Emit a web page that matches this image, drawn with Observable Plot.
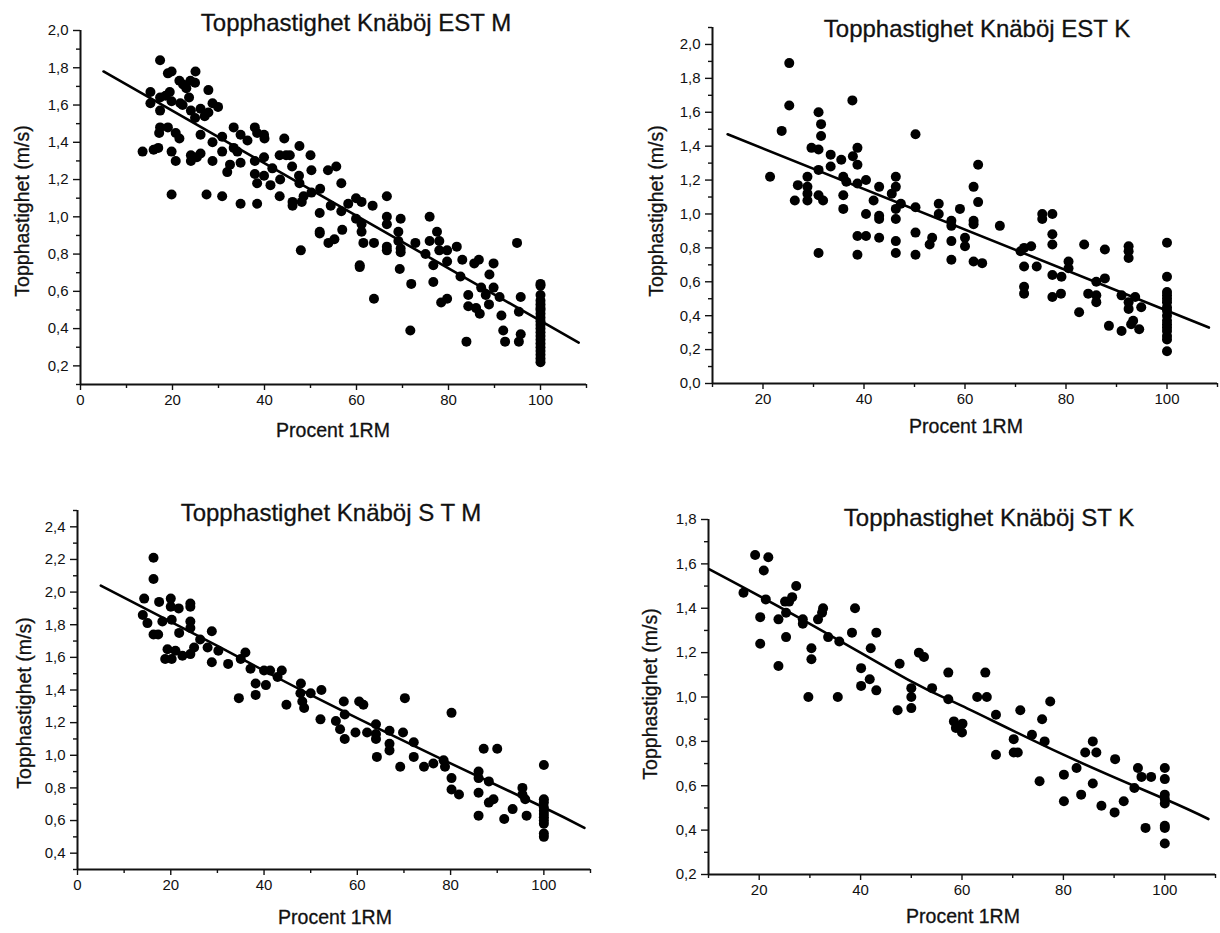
<!DOCTYPE html>
<html><head><meta charset="utf-8">
<script src="https://cdn.jsdelivr.net/npm/d3@7"></script>
<script src="https://cdn.jsdelivr.net/npm/@observablehq/plot@0.6"></script>
<style>
body{margin:0;background:#fff;}
#root{position:relative;width:1220px;height:933px;font-family:"Liberation Sans",Arial,sans-serif;color:#111;overflow:hidden;}
.panel{position:absolute;}
.title{position:absolute;font-size:24px;line-height:1;white-space:nowrap;transform:translateX(-50%);-webkit-text-stroke:0.3px #111;}
.xlab{position:absolute;font-size:19.5px;line-height:1;white-space:nowrap;transform:translateX(-50%);-webkit-text-stroke:0.3px #111;}
.ylab{position:absolute;font-size:19.5px;line-height:1;white-space:nowrap;transform:translate(-50%,-50%) rotate(-90deg);-webkit-text-stroke:0.3px #111;}
</style></head><body><div id="root"></div>
<script>
// ---------- DATA ----------
const titles = ["Topphastighet Knäböj EST M", "Topphastighet Knäböj EST K", "Topphastighet Knäböj S T M", "Topphastighet Knäböj ST K"];
const xLabel = "Procent 1RM";
const yLabel = "Topphastighet (m/s)";

// [Procent 1RM, Topphastighet m/s]
const estM = [[17.3,1.84],[19,1.77],[19.8,1.78],[15.2,1.67],[15.2,1.61],[17.3,1.64],[18.5,1.65],[19.4,1.67],[19.8,1.62],[21.5,1.73],[22.3,1.71],[23,1.69],[23.9,1.73],[25,1.78],[24.9,1.72],[21.7,1.61],[22.2,1.60],[23.6,1.64],[27.8,1.68],[24,1.57],[24.9,1.53],[26.1,1.58],[27,1.54],[27.8,1.56],[28.7,1.61],[29.9,1.59],[17.3,1.57],[17.3,1.48],[19,1.48],[17.1,1.45],[20.7,1.45],[21.5,1.42],[13.5,1.35],[15.9,1.36],[16.9,1.37],[19.8,1.35],[20.7,1.30],[24,1.33],[24,1.30],[25.3,1.32],[26.1,1.34],[26.1,1.44],[28.7,1.30],[28.7,1.40],[30.8,1.43],[30.8,1.35],[19.8,1.12],[27.4,1.12],[30.8,1.11],
[33.3,1.48],[31.9,1.24],[32.5,1.28],[33.3,1.37],[34.1,1.35],[34.8,1.44],[36.3,1.41],[34.8,1.29],[34.8,1.07],[37.9,1.48],[38.4,1.45],[39.9,1.44],[40,1.42],[39.9,1.32],[37.9,1.30],[37.9,1.23],[38.4,1.18],[39.9,1.22],[41.3,1.17],[41.7,1.26],[38.4,1.07],[43.3,1.11],[43.3,1.33],[43.4,1.20],[44.3,1.42],[44.7,1.33],[45.5,1.33],[46,1.27],[46.1,1.08],[46.1,1.06],[47.6,1.38],[47.5,1.22],[47.6,1.18],[48.1,1.08],[48.5,1.11],[47.9,0.82],
[50,1.33],[50.2,1.25],[50.2,1.13],[52.1,1.15],[52,1.02],[52,0.92],[52,0.91],[53.8,1.25],[55.6,1.27],[54.4,1.06],[53.9,0.86],[55.2,0.88],[56.7,1.18],[56.7,1.03],[56.9,0.93],[58.2,1.07],[59.9,1.10],[61.1,1.08],[59.9,0.99],[61.1,0.96],[61.1,0.92],[61.5,0.86],[60.7,0.74],[60.7,0.73],[63.5,1.06],[63.8,0.86],[63.8,0.56],
[66.6,1.11],[66.6,1.00],[66.6,0.96],[66.6,0.84],[66.6,0.82],[69.1,0.92],[69.6,0.99],[69.1,0.87],[69.6,0.83],[69.6,0.81],[69.4,0.72],[71.9,0.64],[71.7,0.39],[72.8,0.86],[75.9,1.00],[75.9,0.87],[75,0.80],[76.7,0.74],[76.7,0.65],[77.5,0.92],[78,0.87],[78,0.82],[79.7,0.82],[79.7,0.76],[78.4,0.54],[79.7,0.56],
[81.8,0.84],[83,0.77],[82.6,0.68],[84.3,0.58],[84.3,0.52],[83.9,0.33],[85.6,0.75],[86.6,0.77],[86,0.51],[86.8,0.48],[87.1,0.62],[88.1,0.58],[88.9,0.69],[88.8,0.53],[89.8,0.75],[89.8,0.62],[91.1,0.57],[91.5,0.47],[91.9,0.39],[92.3,0.33],[94.9,0.86],[95.7,0.57],[95.3,0.49],[95.3,0.33],[95.7,0.37],
[100,0.64],[100,0.63],[100,0.58],[100,0.55],[100,0.53],[100,0.51],[100,0.50],[100,0.48],[100,0.46],[100,0.44],[100,0.42],[100,0.40],[100,0.38],[100,0.36],[100,0.34],[100,0.32],[100,0.30],[100,0.28],[100,0.26],[100,0.24],[100,0.22]];
const estMFit = [[5,1.78],[108.3,0.325]];

const estK = [[21.4,1.22],[23.7,1.49],[25.2,1.89],[25.2,1.64],[26.9,1.17],[26.3,1.08],[28.8,1.22],[28.8,1.16],[28.8,1.12],[28.8,1.08],[29.6,1.39],[31,1.60],[31,1.38],[31,1.26],[31,1.11],[31,0.77],[31.5,1.53],[31.5,1.46],[31.9,1.08],[33.4,1.35],[33.4,1.28],[35.5,1.32],[35.9,1.22],[35.9,1.11],[35.9,1.03],[36.5,1.19],[37.7,1.67],[37.8,1.34],[38.7,1.39],[38.7,1.29],[38.7,1.18],[38.7,0.87],[38.7,0.76],[40.4,1.20],[40.4,1.00],[40.4,0.87],[41.9,1.08],[43,1.16],[43,0.99],[43,0.97],[43,0.86],[45.5,1.12],[46.3,1.22],[46.3,1.16],[46.3,1.03],[46.3,0.97],[46.3,0.84],[46.3,0.77],[47.3,1.06],
[50.2,1.47],[50.2,1.04],[50.2,0.89],[50.2,0.76],[53,0.82],[53.5,0.86],[54.8,1.06],[54.8,1.00],[57.3,0.96],[57.3,0.93],[57.3,0.84],[57.3,0.73],[59,1.03],[60,0.86],[60,0.81],[61.7,1.16],[61.7,0.96],[61.7,0.94],[61.7,0.72],[62.6,1.29],[62.6,1.07],[63.4,0.71],[66.9,0.93],
[71,0.78],[71.7,0.80],[71.7,0.69],[71.7,0.57],[71.7,0.53],[73.1,0.81],[74.2,0.69],[75.3,1.00],[75.3,0.97],[77.3,1.00],[77.3,0.88],[77.3,0.82],[77.3,0.64],[77.3,0.51],[79.1,0.63],[79,0.53],[80.5,0.72],[80.5,0.68],[82.6,0.42],[83.6,0.82],[84.4,0.53],[86,0.60],[86,0.52],[86,0.48],[87.7,0.79],[87.7,0.62],[88.5,0.34],[91,0.52],[91,0.31],[92.4,0.81],[92.4,0.78],[92.4,0.74],[92.4,0.48],[92.4,0.44],[92.9,0.35],[93.7,0.51],[93.3,0.37],[94.5,0.32],[94.9,0.45],
[100,0.83],[100,0.63],[100,0.54],[100,0.52],[100,0.50],[100,0.48],[100,0.45],[100,0.43],[100,0.40],[100,0.37],[100,0.35],[100,0.33],[100,0.31],[100,0.28],[100,0.26],[100,0.19]];
const estKFit = [[13,1.47],[108.3,0.33]];

const stM = [[16.3,2.21],[16.3,2.08],[14.3,1.96],[14,1.86],[15,1.81],[16.3,1.74],[17.3,1.74],[17.5,1.94],[18.2,1.82],[18.8,1.59],[19.3,1.65],[20,1.96],[20,1.91],[20.2,1.83],[20.2,1.59],[21,1.64],[21.7,1.90],[21.8,1.75],[22.5,1.61],[24.2,1.62],[24.2,1.93],[24.2,1.91],[24.2,1.82],[24.2,1.78],[25,1.66],[26.3,1.71],[27.9,1.66],[28.8,1.76],[28.8,1.57],[30.2,1.64],[32.3,1.56],[34.6,1.35],[35,1.59],[36,1.63],[37.1,1.53],[38.2,1.44],[38.2,1.37],[40,1.52],[40.4,1.43],[41.3,1.52],[42.9,1.48],[43.8,1.52],[44.8,1.31],[47.9,1.44],[47.8,1.38],[48.2,1.33],[48.6,1.29],
[50,1.38],[52.3,1.40],[52.1,1.22],[55.4,1.21],[56.3,1.16],[57.1,1.33],[57.3,1.25],[57.3,1.10],[59.6,1.14],[60.4,1.33],[61.3,1.31],[62.1,1.14],[64,1.19],[64,1.13],[64,1.10],[64.2,0.99],[66.9,1.15],[66.9,1.07],[66.9,1.03],[69.2,0.93],[69.8,1.14],[70.2,1.35],[72.1,1.08],[72.1,0.99],[74.3,0.93],[76.3,0.95],[78.5,0.97],[78.8,0.93],
[80.2,1.26],[80.2,0.86],[80.2,0.79],[81.8,0.76],[86,0.90],[86,0.86],[86,0.77],[86,0.63],[87.1,1.04],[88.2,0.84],[88.2,0.71],[89.2,0.73],[90,1.04],[91.5,0.61],[93.3,0.67],[95.4,0.80],[95.4,0.76],[96,0.73],[96.3,0.63],
[100,0.94],[100,0.73],[100,0.71],[100,0.68],[100,0.66],[100,0.64],[100,0.62],[100,0.60],[100,0.58],[100,0.52],[100,0.50]];
const stMFit = [[5,2.04],[30,1.67],[50,1.37],[80,0.95],[100,0.68],[108.7,0.555]];

const stK = [[16.9,1.47],[19.2,1.64],[20.2,1.36],[20.2,1.24],[20.9,1.57],[21.3,1.44],[21.8,1.63],[23.8,1.14],[23.8,1.35],[25.1,1.43],[25.3,1.38],[25.3,1.27],[25.9,1.43],[26.5,1.45],[27.3,1.50],[28.6,1.35],[28.6,1.33],[29.7,1.00],[30.3,1.22],[30.3,1.17],[31.6,1.35],[32.4,1.38],[32.6,1.40],[33.6,1.27],[35.5,1.00],[35.8,1.25],[38.3,1.29],[38.9,1.40],[40.1,1.13],[40.1,1.05],[42,1.22],[41.8,1.08],[43.1,1.29],[43.1,1.03],[47.3,0.94],[47.7,1.15],
[50,1.04],[50,1.00],[50,0.95],[51.5,1.20],[52.5,1.18],[54.1,1.04],[57.3,1.11],[57.3,0.99],[58.4,0.89],[58.8,0.86],[60.1,0.88],[60,0.84],[63,1.00],[64.6,1.11],[64.9,1.00],[66.7,0.92],[66.7,0.74],[70.2,0.81],[70.2,0.75],[71,0.75],[71.5,0.94],[73.8,0.83],[75.3,0.62],[75.8,0.90],[76.3,0.80],[77.4,0.98],
[80.1,0.65],[80.1,0.53],[82.6,0.68],[83.5,0.56],[84.3,0.75],[85.8,0.80],[85.8,0.61],[86.5,0.75],[87.5,0.51],[90.2,0.72],[90.1,0.48],[91.9,0.53],[94,0.59],[94.7,0.68],[95.4,0.64],[96.2,0.41],[97.3,0.64],
[100,0.68],[100,0.63],[100,0.56],[100,0.54],[100,0.52],[100,0.42],[100,0.41],[100,0.34]];
const stKFit = [[10.2,1.575],[30,1.33],[50,1.07],[60,0.96],[80,0.74],[100,0.54],[108.6,0.45]];

// tick values
const xMajor0 = [0,20,40,60,80,100];
const xMinor0 = [10,30,50,70,90,110];
const xMajor20 = [20,40,60,80,100];
const xMinor20 = [10,30,50,70,90,110];
const yMajorEstM = [0.2,0.4,0.6,0.8,1.0,1.2,1.4,1.6,1.8,2.0];
const yMinorEstM = [0.1,0.3,0.5,0.7,0.9,1.1,1.3,1.5,1.7,1.9];
const yMajorEstK = [0.0,0.2,0.4,0.6,0.8,1.0,1.2,1.4,1.6,1.8,2.0];
const yMinorEstK = [0.1,0.3,0.5,0.7,0.9,1.1,1.3,1.5,1.7,1.9,2.1];
const yMajorStM = [0.4,0.6,0.8,1.0,1.2,1.4,1.6,1.8,2.0,2.2,2.4];
const yMinorStM = [0.3,0.5,0.7,0.9,1.1,1.3,1.5,1.7,1.9,2.1,2.3,2.5];
const yMajorStK = [0.2,0.4,0.6,0.8,1.0,1.2,1.4,1.6,1.8];
const yMinorStK = [0.3,0.5,0.7,0.9,1.1,1.3,1.5,1.7];

// ---------- DRAWING ----------
const FONT = '"Liberation Sans", Arial, sans-serif';
const comma = v => d3.format(".1f")(v).replace(".", ",");
const root = document.getElementById("root");

function panel(cfg) {
  const rows = cfg.data.map(([p, v]) => ({p, v}));
  const fitRows = cfg.fit.map(([p, v]) => ({p, v}));
  const svg = Plot.plot({
    width: 610, height: cfg.h,
    marginLeft: cfg.m[0], marginRight: cfg.m[1], marginTop: cfg.m[2], marginBottom: cfg.m[3],
    style: {fontFamily: FONT, fontSize: "15px", color: "#111", background: "none", overflow: "visible"},
    x: {domain: cfg.xd, axis: null, label: null},
    y: {domain: cfg.yd, axis: null, label: null},
    marks: [
      Plot.axisY(cfg.yMinor, {label: null, tickSize: 4, tickFormat: () => "", strokeWidth: 1.4}),
      Plot.axisY(cfg.yMajor, {label: null, tickSize: 7, tickPadding: 5, tickFormat: comma, strokeWidth: 1.4, fontSize: 15}),
      Plot.axisX(cfg.xMinor, {label: null, tickSize: 4, tickFormat: () => "", strokeWidth: 1.4}),
      Plot.axisX(cfg.xMajor, {label: null, tickSize: 6, tickPadding: 4, tickFormat: d => String(d), strokeWidth: 1.4, fontSize: 15}),
      Plot.ruleX([cfg.xd[0]], {stroke: "#111", strokeWidth: 2}),
      Plot.ruleY([cfg.yd[0]], {stroke: "#111", strokeWidth: 2}),
      Plot.dot(rows, {x: "p", y: "v", r: 5, fill: "#000"}),
      Plot.line(fitRows, {x: "p", y: "v", curve: "natural", stroke: "#000", strokeWidth: 2.6})
    ]
  });
  svg.classList.add("panel");
  svg.style.left = cfg.left + "px";
  svg.style.top = cfg.top + "px";
  root.appendChild(svg);

  const t = document.createElement("div");
  t.className = "title"; t.textContent = cfg.title;
  t.style.left = cfg.tx + "px"; t.style.top = cfg.ty + "px";
  root.appendChild(t);

  const xl = document.createElement("div");
  xl.className = "xlab"; xl.textContent = xLabel;
  xl.style.left = cfg.xlx + "px"; xl.style.top = cfg.xly + "px";
  root.appendChild(xl);

  const yl = document.createElement("div");
  yl.className = "ylab"; yl.textContent = yLabel;
  yl.style.left = cfg.ylx + "px"; yl.style.top = cfg.yly + "px";
  root.appendChild(yl);
}

panel({data: estM, fit: estMFit, xd: [0, 110], yd: [0.1, 2.0], xMajor: xMajor0, xMinor: xMinor0,
  yMajor: yMajorEstM, yMinor: yMinorEstM, h: 466, m: [80, 24, 30, 82], left: 0, top: 0,
  title: titles[0], tx: 356, ty: 11, xlx: 333, xly: 421, ylx: 23, yly: 211});
panel({data: estK, fit: estKFit, xd: [10, 110], yd: [0, 2.1], xMajor: xMajor20, xMinor: xMinor20,
  yMajor: yMajorEstK, yMinor: yMinorEstK, h: 466, m: [102, 3, 27, 83], left: 610, top: 0,
  title: titles[1], tx: 977, ty: 17, xlx: 966, xly: 417, ylx: 657, yly: 211});
panel({data: stM, fit: stMFit, xd: [0, 110], yd: [0.3, 2.5], xMajor: xMajor0, xMinor: xMinor0,
  yMajor: yMajorStM, yMinor: yMinorStM, h: 467, m: [77, 20, 44, 64], left: 0, top: 466,
  title: titles[2], tx: 331, ty: 501, xlx: 335, xly: 908, ylx: 25, yly: 703});
panel({data: stK, fit: stKFit, xd: [10, 110], yd: [0.2, 1.8], xMajor: xMajor20, xMinor: xMinor20,
  yMajor: yMajorStK, yMinor: yMinorStK, h: 467, m: [98, 5, 53, 59], left: 610, top: 466,
  title: titles[3], tx: 989, ty: 506, xlx: 963, xly: 907, ylx: 651, yly: 694});
</script></body></html>
